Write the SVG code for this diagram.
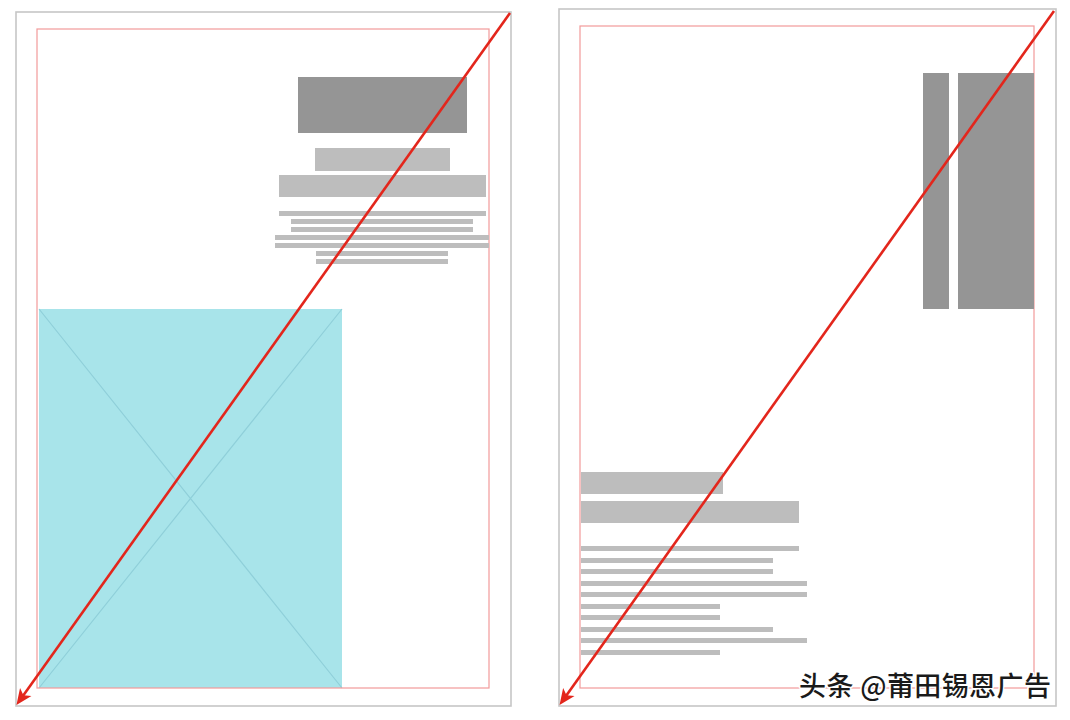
<svg xmlns="http://www.w3.org/2000/svg" width="1070" height="720" viewBox="0 0 1070 720">
<style>
.page{fill:#fff;stroke:#c6c6c6;stroke-width:1.6}
.margin{fill:none;stroke:#f29a9a;stroke-width:1.2}
.dark{fill:#959595}
.light{fill:#bdbdbd}
.photo{fill:#a8e4ea}
.xline{stroke:#8fcfd9;stroke-width:1.2;fill:none}
.arrow{stroke:#e3261c;stroke-width:2.6;fill:none;marker-end:url(#ah)}
.wm{font-family:"Noto Sans CJK SC","Noto Sans",sans-serif;font-size:27px;font-weight:500;letter-spacing:0.4px;fill:#1a1a1a;stroke:#ffffff;stroke-width:3;paint-order:stroke;stroke-linejoin:round}
</style>
<defs>
<marker id="ah" markerUnits="userSpaceOnUse" markerWidth="20" markerHeight="20" refX="8" refY="0" orient="auto" overflow="visible">
<path d="M16,0 L0,-7 L4,0 L0,7 Z" fill="#e3261c"/>
</marker>
</defs>
<rect width="1070" height="720" fill="#ffffff"/>
<g id="page-left">
<rect class="page" x="16" y="12" width="495" height="694"/>
<rect class="photo" x="39" y="309" width="303" height="379"/>
<path class="xline" d="M39,309 L342,688 M342,309 L39,688"/>
<rect class="margin" x="37" y="29" width="452" height="659"/>
<rect class="dark" x="298" y="77" width="169" height="56"/>
<rect class="light" x="315" y="148" width="135" height="23"/>
<rect class="light" x="279" y="175" width="207" height="22"/>
<rect class="light" x="279" y="211" width="207" height="5"/>
<rect class="light" x="291" y="219" width="182" height="5"/>
<rect class="light" x="291" y="227" width="182" height="5"/>
<rect class="light" x="275" y="235" width="214" height="5"/>
<rect class="light" x="275" y="243" width="214" height="5"/>
<rect class="light" x="316" y="251" width="132" height="5"/>
<rect class="light" x="316" y="259" width="132" height="5"/>
</g>
<g id="page-right">
<rect class="page" x="559" y="9" width="497" height="697"/>
<rect class="margin" x="580" y="26" width="454" height="662"/>
<rect class="dark" x="923" y="73" width="26" height="236"/>
<rect class="dark" x="958" y="73" width="76" height="236"/>
<rect class="light" x="581" y="472" width="142" height="22"/>
<rect class="light" x="581" y="501" width="218" height="22"/>
<rect class="light" x="581" y="546" width="218" height="5"/>
<rect class="light" x="581" y="558" width="192" height="5"/>
<rect class="light" x="581" y="569" width="192" height="5"/>
<rect class="light" x="581" y="581" width="226" height="5"/>
<rect class="light" x="581" y="592" width="226" height="5"/>
<rect class="light" x="581" y="604" width="139" height="5"/>
<rect class="light" x="581" y="615" width="139" height="5"/>
<rect class="light" x="581" y="627" width="192" height="5"/>
<rect class="light" x="581" y="638" width="226" height="5"/>
<rect class="light" x="581" y="650" width="139" height="5"/>
</g>
<g id="connectors">
<path class="arrow" d="M510,13 L21.1,698.5"/>
<path class="arrow" d="M1054,11 L564.2,698.5"/>
</g>
<text class="wm" x="799" y="696">头条 @莆田锡恩广告</text>
</svg>
